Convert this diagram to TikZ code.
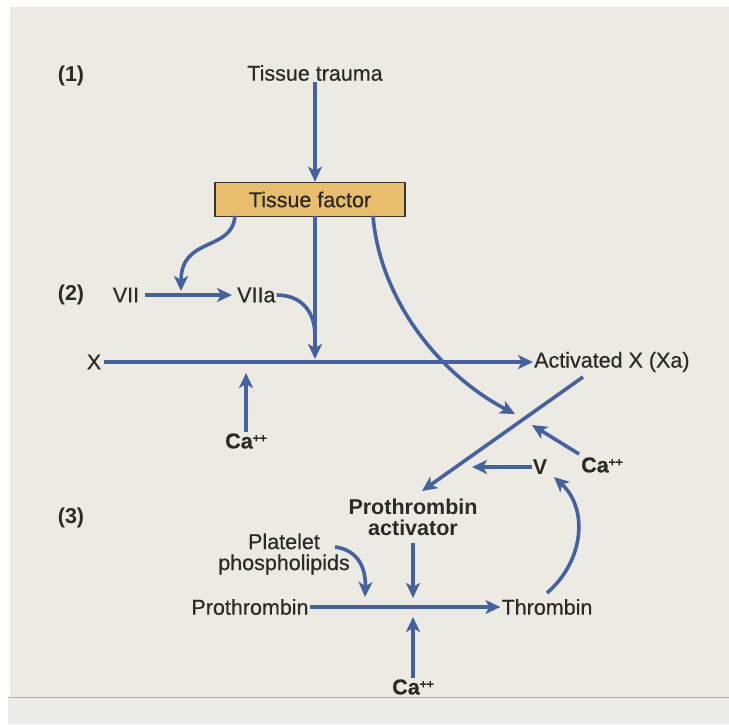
\documentclass[tikz,border=0pt]{standalone}
\usepackage{fontspec}
\setmainfont{Liberation Sans}
\usetikzlibrary{arrows.meta}
\definecolor{panel}{HTML}{EDEAE4}
\definecolor{lowband}{HTML}{EBEBE9}
\definecolor{arrowblue}{HTML}{4461A0}
\definecolor{boxfill}{HTML}{E8BD6B}
\definecolor{boxline}{HTML}{3A3530}
\definecolor{txt}{HTML}{2B2A28}
\tikzset{
  lbl/.style={text=txt, inner sep=1pt, font=\fontsize{21.5}{24}\selectfont\addfontfeature{FakeBold=0.5}},
  blbl/.style={text=txt, inner sep=1pt, font=\fontsize{21.5}{24}\selectfont\bfseries},
  arr/.style={draw=arrowblue, line width=3.6pt, -{Stealth[length=15pt,width=14pt,inset=4pt]}},
  plain/.style={draw=arrowblue, line width=3.6pt},
  tfbox/.style={draw=boxline, line width=1.6pt, fill=boxfill, minimum width=190pt, minimum height=34pt, inner sep=0pt, text=txt, font=\fontsize{21.5}{24}\selectfont\addfontfeature{FakeBold=0.5}}
}
\newcommand{\caion}{{\bfseries Ca}\raisebox{0.55ex}{\fontsize{12}{12}\selectfont\bfseries ++}}
\begin{document}
\begin{tikzpicture}[x=1pt,y=-1pt]
\useasboundingbox (0,0) rectangle (729,724);
\fill[white] (0,0) rectangle (729,724);
\fill[panel] (10,7) rectangle (729,697);
\fill[lowband] (8,697) rectangle (729,724);
\draw[gray!60, line width=1.2pt] (8,697.5) -- (729,697.5);

% labels
\node[blbl] (s1) at (71,76) {(1)};
\node[blbl] (s2) at (71,295) {(2)};
\node[blbl] (s3) at (71,518) {(3)};

\node[lbl] (trauma) at (315,73) {Tissue trauma};
\node[tfbox] (tf) at (310,199.5) {Tissue factor};
\node[lbl] (vii) at (126,295) {VII};
\node[lbl, anchor=west] (viia) at (236,295) {VIIa};
\node[lbl] (x) at (94,362) {X};
\node[lbl, anchor=west] (xa) at (533,362) {Activated X (Xa)};
\node[lbl] (ca1) at (246,441) {\caion};
\node[lbl] (ca2) at (602,465) {\caion};
\node[blbl] (v) at (540,467) {V};
\node[blbl, align=center] (pa) at (413,517) {Prothrombin\\[-3pt]activator};
\node[lbl, align=center] (pp) at (284,554) {Platelet\\[-3pt]phospholipids};
\node[lbl] (pro) at (250,607) {Prothrombin};
\node[lbl] (thr) at (547,607) {Thrombin};
\node[lbl] (ca3) at (413,687) {\caion};

% junction coordinates
\coordinate (j7) at (181,291);
\coordinate (jx) at (315,359);
\coordinate (jmerge) at (315,336);
\coordinate (jca1) at (246,373);
\coordinate (tfl) at (235,216);
\coordinate (tfm) at (315,216);
\coordinate (tfr) at (373,216);
\coordinate (cross1) at (515,414);
\coordinate (xastart) at (583,377);
\coordinate (paend) at (422,491);
\coordinate (ca2start) at (579,454);
\coordinate (cross2) at (532,425);
\coordinate (vend) at (472,467);
\coordinate (pain) at (413,543);
\coordinate (pajn) at (413,598);
\coordinate (ppstart) at (335,547);
\coordinate (ppjn) at (365,597);
\coordinate (thrstart) at (547,593);
\coordinate (thrv) at (554,477);
\coordinate (cajn) at (413,617);

% connectors
\draw[arr] (trauma.south) -- (trauma.south |- tf.north);
\draw[arr] (tfl) .. controls (232,252) and (181,236) .. (j7);
\draw[arr] (vii.east) ++(5,0) -- ([xshift=-4pt]viia.west);
\draw[arr] (tfm) -- (jx);
\draw[plain] (viia.east) .. controls (300,295) and (315,310) .. (jmerge);
\draw[arr] (x.east) ++(2,0) -- (xa.west);
\draw[arr] (ca1.north) -- (jca1);
\draw[arr] (tfr) .. controls (380,300) and (440,375) .. (cross1);
\draw[arr] (xastart) -- (paend);
\draw[arr] (ca2start) -- (cross2);
\draw[arr] (v.west) -- (vend);
\draw[arr] (pain) -- (pajn);
\draw[arr] (ppstart) .. controls (358,550) and (366,568) .. (ppjn);
\draw[arr] (pro.east) -- (thr.west);
\draw[arr] (thrstart) .. controls (585,560) and (588,508) .. (thrv);
\draw[arr] (ca3.north) -- (cajn);
\end{tikzpicture}
\end{document}
